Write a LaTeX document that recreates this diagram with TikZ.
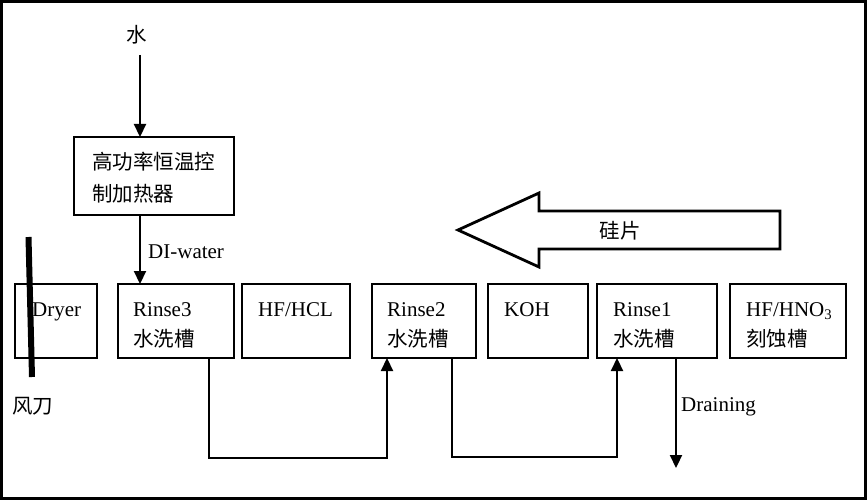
\documentclass[tikz,border=0pt]{standalone}
\usepackage{fontspec}
\setmainfont{Liberation Serif}
\newfontfamily\cjk{Noto Sans CJK SC}
\usetikzlibrary{arrows.meta}
\begin{document}
\begin{tikzpicture}[x=1pt,y=-1pt,
  tank/.style={draw, line width=2.8pt, minimum height=74pt, inner sep=0pt, outer sep=0pt, anchor=north west},
  txt/.style={anchor=base west, inner sep=0pt, font=\fontsize{21}{24}\selectfont},
  cjkfont/.style={font=\fontsize{20.5}{24}\selectfont\cjk},
  cjktxt/.style={anchor=base west, inner sep=0pt, cjkfont},
  conn/.style={line width=2.2pt},
  tip/.style={-{Triangle[length=13pt,width=12pt]}}]
\useasboundingbox (0,0) rectangle (867,500);
\draw[line width=3pt] (1.5,1.5) rectangle (865.5,498.5);

% tanks
\node[tank, minimum width=82pt] (dry) at (15,284) {};
\node[tank, minimum width=116pt] (r3) at (118,284) {};
\node[tank, minimum width=108pt] (hcl) at (242,284) {};
\node[tank, minimum width=104pt] (r2) at (372,284) {};
\node[tank, minimum width=100pt] (koh) at (488,284) {};
\node[tank, minimum width=120pt] (r1) at (597,284) {};
\node[tank, minimum width=116pt] (hno) at (730,284) {};

\node[txt] (tdry) at (32,316) {Dryer};
\node[txt] (tr3) at (133,316) {Rinse3};
\node[cjktxt] (cr3) at (133,346) {水洗槽};
\node[txt] (thcl) at (258,316) {HF/HCL};
\node[txt] (tr2) at (387,316) {Rinse2};
\node[cjktxt] (cr2) at (387,346) {水洗槽};
\node[txt] (tkoh) at (504,316) {KOH};
\node[txt] (tr1) at (613,316) {Rinse1};
\node[cjktxt] (cr1) at (613,346) {水洗槽};
\node[txt] (thno) at (746,316) {HF/HNO\textsubscript{3}};
\node[cjktxt] (chno) at (746,346) {刻蚀槽};

% heater
\node[draw, line width=2.8pt, minimum width=160pt, minimum height=78pt, inner sep=0pt, outer sep=0pt, anchor=north west] (heat) at (74,137) {};
\node[cjktxt] (h1) at (92,169) {高功率恒温控};
\node[cjktxt] (h2) at (92,201) {制加热器};
\node[inner sep=0pt, cjkfont] (water) at (137,35) {水};
\coordinate (ws) at (140,55);
\draw[conn,tip] (ws) -- (ws |- heat.north);
\draw[conn,tip] (heat.south -| ws) -- (r3.north -| ws);
\node[txt] (di) at (148,258) {DI-water};

% fan knife
\coordinate (k1) at (28.5,237);
\coordinate (k2) at (32,377);
\draw[line width=6pt] (k1) -- (k2);
\node[inner sep=0pt, cjkfont] (fan) at (33,406) {风刀};

% wafer arrow
\draw[line width=2.8pt, line join=miter] (458,230) -- (539,193) -- (539,211) -- (780,211) -- (780,249) -- (539,249) -- (539,267) -- cycle;
\node[inner sep=0pt, cjkfont] (wafer) at (620,231) {硅片};

% water flow
\draw[conn,tip] ([xshift=91pt]r3.south west) -- ++(0,100) -| ([xshift=15pt]r2.south west);
\draw[conn,tip] ([xshift=-24pt]r2.south east) -- ++(0,99) -| ([xshift=20pt]r1.south west);
\draw[conn,tip] ([xshift=79pt]r1.south west) -- ++(0,110);
\node[txt] (drain) at (681,411) {Draining};
\end{tikzpicture}
\end{document}
